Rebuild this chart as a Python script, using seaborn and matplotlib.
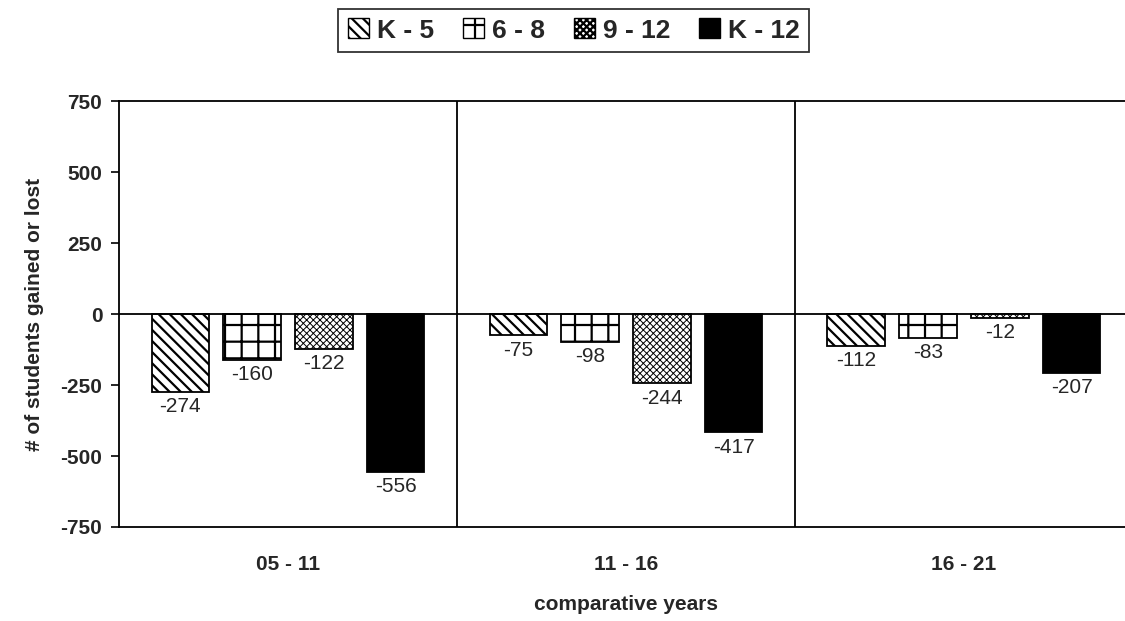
import matplotlib
matplotlib.use("Agg")
import matplotlib.pyplot as plt
import seaborn as sns
import pandas as pd
from matplotlib.patches import Patch

# Enrollment change per grade band across comparative year ranges
periods = ["05 - 11", "11 - 16", "16 - 21"]
grades = ["K - 5", "6 - 8", "9 - 12", "K - 12"]
k5 = [-274, -75, -112]
g68 = [-160, -98, -83]
g912 = [-122, -244, -12]
k12 = [-556, -417, -207]
y_ticks = [-750, -500, -250, 0, 250, 500, 750]

series = {"K - 5": k5, "6 - 8": g68, "9 - 12": g912, "K - 12": k12}
rows = []
for g in grades:
    for p, v in zip(periods, series[g]):
        rows.append({"period": p, "grade": g, "change": v})
df = pd.DataFrame(rows)

sns.set_theme(style="white")
plt.rcParams["font.family"] = ["Liberation Sans", "DejaVu Sans"]
plt.rcParams["hatch.linewidth"] = 1.6

fig = plt.figure(figsize=(11.25, 6.21), dpi=100)
ax = fig.add_axes([0.1058, 0.1514, 0.9012, 0.6856])

sns.barplot(data=df, x="period", y="change", hue="grade", order=periods,
            hue_order=grades, palette=["white", "white", "white", "black"],
            width=0.85, gap=0.2, edgecolor="black", linewidth=1.3,
            errorbar=None, legend=False, ax=ax)

hatches = {"K - 5": "\\\\\\", "6 - 8": "+", "9 - 12": "xxxxx", "K - 12": ""}
hatch_lw = {"K - 5": 1.6, "6 - 8": 1.6, "9 - 12": 0.7, "K - 12": 1.0}
for cont, g in zip(ax.containers, grades):
    for bar in cont:
        bar.set_hatch(hatches[g])
        bar.set_hatch_linewidth(hatch_lw[g])
    ax.bar_label(cont, labels=[f"{v:d}" for v in series[g]], padding=4,
                 fontsize=15)

ax.set_ylim(-750, 750)
ax.set_xlim(-0.5, 2.5)
ax.set_yticks(y_ticks)
ax.set_yticklabels([str(t) for t in y_ticks], fontsize=15, fontweight="bold")
ax.tick_params(axis="y", which="both", left=True, length=6, width=1.2,
               direction="out", pad=6, color="black")
ax.tick_params(axis="x", bottom=False, pad=14)
for lbl in ax.get_xticklabels():
    lbl.set_fontsize(15)
    lbl.set_fontweight("bold")

ax.axhline(0, color="black", linewidth=1.3, zorder=1)
for xb in [0.5, 1.5]:
    ax.axvline(xb, color="black", linewidth=1.3, zorder=1)

for side in ["top", "bottom", "left"]:
    ax.spines[side].set_visible(True)
    ax.spines[side].set_color("black")
    ax.spines[side].set_linewidth(1.3)
ax.spines["right"].set_visible(False)

ax.set_xlabel("comparative years", fontsize=15, fontweight="bold", labelpad=15)
ax.set_ylabel("# of students gained or lost", fontsize=15, fontweight="bold",
              labelpad=12)

handles = []
for g in grades:
    h = Patch(facecolor=("black" if g == "K - 12" else "white"),
              edgecolor="black", hatch=hatches[g], label=g)
    h.set_hatch_linewidth(hatch_lw[g])
    handles.append(h)
leg = fig.legend(handles=handles, loc="center", bbox_to_anchor=(0.51, 0.951),
                 ncol=4, frameon=True, fancybox=False, handlelength=0.8,
                 handleheight=0.8, handletextpad=0.3, columnspacing=1.1,
                 borderpad=0.35, prop={"weight": "bold", "size": 19})
leg.get_frame().set_edgecolor("black")
leg.get_frame().set_linewidth(1.3)

fig.savefig("out.png", dpi=100)
